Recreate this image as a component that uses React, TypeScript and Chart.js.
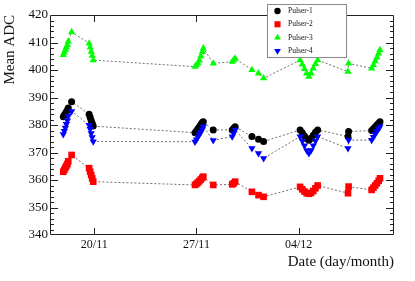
import { useEffect, useRef } from 'react';
import { Chart, registerables } from 'chart.js';
import { drawPoint } from 'chart.js/helpers';

Chart.register(...registerables);

// x = day number counted from 1 November (20/11 -> 20, 04/12 -> 34)
const dates = [
  17.88, 17.95, 18.02, 18.09, 18.16, 18.22, 18.45,
  19.65, 19.72, 19.79, 19.86, 19.93,
  26.9, 27.0, 27.1, 27.2, 27.3, 27.4, 27.47,
  28.15,
  29.45, 29.55, 29.65,
  30.8, 31.25, 31.6,
  34.1, 34.25, 34.4, 34.55, 34.7, 34.85, 35.0, 35.15, 35.3,
  37.38, 37.42,
  39.0, 39.12, 39.24, 39.36, 39.48, 39.57,
];

const pulser1 = [
  383.0, 383.6, 384.2, 384.8, 385.4, 386.2, 388.5,
  383.9, 382.8, 381.6, 380.6, 379.6,
  377.2, 377.8, 378.6, 379.4, 380.2, 380.9, 381.2,
  378.2,
  378.2, 378.8, 379.4,
  375.8, 374.8, 374.0,
  378.2, 377.2, 376.0, 375.0, 374.5, 375.2, 376.3, 377.4, 378.2,
  375.8, 377.6,
  378.0, 378.6, 379.3, 380.0, 380.6, 381.2,
];

const pulser2 = [
  363.0, 363.7, 364.4, 365.1, 365.8, 366.8, 369.1,
  364.3, 363.0, 361.8, 360.6, 359.4,
  358.2, 358.6, 359.1, 359.6, 360.2, 360.8, 361.2,
  358.2,
  358.4, 358.8, 359.4,
  355.7, 354.5, 353.9,
  357.5, 356.6, 355.8, 355.2, 355.0, 355.3, 356.0, 357.0, 358.0,
  355.2, 357.6,
  356.4, 357.2, 358.0, 358.8, 359.7, 360.6,
];

const pulser3 = [
  405.5, 406.4, 407.3, 408.2, 409.1, 410.4, 413.8,
  409.7, 408.2, 406.7, 405.2, 403.6,
  401.2, 401.8, 402.5, 403.5, 405.0, 406.6, 407.9,
  402.4,
  403.0, 403.6, 404.2,
  400.0, 398.8, 397.0,
  403.6, 402.0, 400.4, 398.8, 397.6, 398.8, 400.6, 402.2, 403.6,
  399.4, 402.4,
  400.6, 401.8, 403.2, 404.6, 406.0, 407.3,
];

const pulser4 = [
  376.6, 377.8, 379.0, 380.3, 381.6, 383.2, 385.0,
  380.0, 378.5, 377.0, 375.5, 374.0,
  373.9, 374.7, 375.6, 376.5, 377.4, 378.4, 379.4,
  374.4,
  375.8, 377.0, 378.2,
  371.5, 369.7, 367.9,
  375.8, 374.2, 372.5, 370.8, 369.7, 370.8, 372.5, 374.2, 375.8,
  371.5, 374.5,
  374.5, 375.6, 376.7, 377.7, 378.6, 379.4,
];

const seriesNames = ['Pulser-1', 'Pulser-2', 'Pulser-3', 'Pulser-4'];
const seriesValues = [pulser1, pulser2, pulser3, pulser4];
const seriesColors = ['#000000', '#ff0000', '#00ff00', '#0000ff'];
const seriesStyles = ['circle', 'rect', 'triangle', 'triangle'];
const seriesRotation = [0, 0, 0, 180];
const seriesRadius = [3.5, 4.7, 4.2, 4.2];
const legendRadius = [3.2, 4.3, 3.9, 3.9];

const xMin = 16.97;
const xMax = 40.53;
const xTickValues = [20, 27, 34];
const xTickLabels = ['20/11', '27/11', '04/12'];
const yMin = 340;
const yMax = 420;
const yStep = 10;
const yMinorStep = 2;

const TEXT = '#111';
const SERIF = '"Liberation Serif", "DejaVu Serif", serif';

const framePlugin = {
  id: 'rootFrame',
  afterDraw(chart: any) {
    const { ctx, chartArea: a, scales } = chart;
    const x = scales.x;
    const y = scales.y;
    ctx.save();
    ctx.strokeStyle = '#222';
    ctx.lineWidth = 1;
    ctx.beginPath();
    ctx.rect(a.left + 0.5, a.top + 0.5, a.right - a.left - 1, a.bottom - a.top - 1);
    ctx.stroke();
    ctx.beginPath();
    for (let v = yMin + yMinorStep; v < yMax; v += yMinorStep) {
      const py = Math.round(y.getPixelForValue(v)) + 0.5;
      const len = v % yStep === 0 ? 8 : 4;
      ctx.moveTo(a.left, py);
      ctx.lineTo(a.left + len, py);
      ctx.moveTo(a.right, py);
      ctx.lineTo(a.right - len, py);
    }
    for (const v of xTickValues) {
      const px = Math.round(x.getPixelForValue(v)) + 0.5;
      ctx.moveTo(px, a.bottom);
      ctx.lineTo(px, a.bottom - 7);
      ctx.moveTo(px, a.top);
      ctx.lineTo(px, a.top + 7);
    }
    ctx.stroke();

    // legend box
    const lx = 267;
    const ly = 4;
    const lw = 80;
    const lh = 54;
    ctx.fillStyle = '#ffffff';
    ctx.fillRect(lx, ly, lw, lh);
    ctx.strokeStyle = '#8a8a8a';
    ctx.strokeRect(lx + 0.5, ly + 0.5, lw - 1, lh - 1);
    chart.data.datasets.forEach((ds: any, i: number) => {
      const cy = ly + 7 + i * 13.3;
      ctx.fillStyle = seriesColors[i];
      drawPoint(ctx, {
        pointStyle: seriesStyles[i],
        radius: legendRadius[i],
        rotation: seriesRotation[i],
        borderWidth: 0,
      } as any, lx + 10.5, cy);
      ctx.fillStyle = TEXT;
      ctx.font = `7.5px ${SERIF}`;
      ctx.textBaseline = 'middle';
      ctx.textAlign = 'left';
      ctx.fillText(ds.label, lx + 21, cy);
    });
    ctx.restore();
  },
};

export default function App() {
  const canvasRef = useRef<HTMLCanvasElement>(null);

  useEffect(() => {
    document.body.style.margin = '0';
    const canvas = canvasRef.current;
    if (!canvas) return;
    const datasets = seriesNames.map((name, i) => ({
      label: name,
      data: dates.map((d, k) => ({ x: d, y: seriesValues[i][k] })),
      showLine: true,
      borderColor: '#6e6e6e',
      borderWidth: 1,
      borderDash: [2, 2],
      tension: 0,
      pointStyle: seriesStyles[i],
      pointRotation: seriesRotation[i],
      pointRadius: seriesRadius[i],
      pointBackgroundColor: seriesColors[i],
      pointBorderColor: seriesColors[i],
      pointBorderWidth: 0,
      order: 4 - i,
    }));
    const chart = new Chart(canvas, {
      type: 'scatter',
      data: { datasets },
      options: {
        responsive: false,
        animation: false,
        layout: { padding: { left: 0, right: 21, top: 15, bottom: 0 } },
        plugins: { legend: { display: false }, tooltip: { enabled: false } },
        scales: {
          x: {
            type: 'linear',
            min: xMin,
            max: xMax,
            afterBuildTicks: (s: any) => {
              s.ticks = xTickValues.map((v) => ({ value: v }));
            },
            afterFit: (s: any) => {
              s.height = 46;
            },
            ticks: {
              autoSkip: false,
              maxRotation: 0,
              padding: 3,
              color: TEXT,
              font: { family: SERIF, size: 12 },
              callback: (v: any) => {
                const idx = xTickValues.indexOf(Number(v));
                return idx >= 0 ? xTickLabels[idx] : '';
              },
            },
            grid: { display: false, drawTicks: false },
            border: { display: false },
            title: {
              display: true,
              text: 'Date (day/month)',
              align: 'end',
              color: TEXT,
              font: { family: SERIF, size: 15 },
              padding: { top: 0, bottom: 10 },
            },
          },
          y: {
            type: 'linear',
            min: yMin,
            max: yMax,
            afterFit: (s: any) => {
              s.width = 50;
            },
            ticks: {
              stepSize: yStep,
              padding: 2,
              color: TEXT,
              font: { family: SERIF, size: 13 },
            },
            grid: { display: false, drawTicks: false },
            border: { display: false },
            title: {
              display: true,
              text: 'Mean ADC',
              align: 'end',
              color: TEXT,
              font: { family: SERIF, size: 15 },
              padding: { top: 1, bottom: 0 },
            },
          },
        },
      },
      plugins: [framePlugin],
    } as any);
    return () => chart.destroy();
  }, []);

  return (
    <div style={{ width: 415, height: 281, background: '#fff' }}>
      <canvas ref={canvasRef} width={415} height={281} style={{ display: 'block' }} />
    </div>
  );
}
